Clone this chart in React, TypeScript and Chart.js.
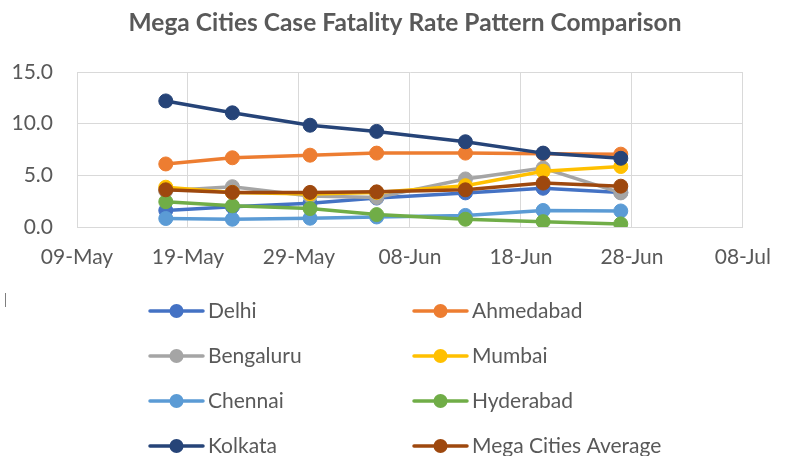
import React, { useEffect, useRef } from "react";
import { Chart, registerables } from "chart.js";

Chart.register(...registerables);

const TITLE = "Mega Cities Case Fatality Rate Pattern Comparison";
const START_DATE = "2020-05-09";
const END_DATE = "2020-07-08";
const TICK_STEP_DAYS = 10;
const Y_MIN = 0;
const Y_MAX = 15;
const Y_STEP = 5;

const dates = ["2020-05-17", "2020-05-23", "2020-05-30", "2020-06-05", "2020-06-13", "2020-06-20", "2020-06-27"];

const seriesNames = ["Delhi", "Ahmedabad", "Bengaluru", "Mumbai", "Chennai", "Hyderabad", "Kolkata", "Mega Cities Average"];
const delhi = [1.6, 1.95, 2.3, 2.8, 3.3, 3.75, 3.35];
const ahmedabad = [6.1, 6.7, 6.95, 7.15, 7.15, 7.1, 7.05];
const bengaluru = [3.5, 3.9, 3.0, 2.85, 4.65, 5.7, 3.3];
const mumbai = [3.85, 3.35, 3.2, 3.35, 4.0, 5.4, 5.85];
const chennai = [0.82, 0.75, 0.85, 0.97, 1.12, 1.6, 1.55];
const hyderabad = [2.45, 2.05, 1.78, 1.2, 0.75, 0.52, 0.3];
const kolkata = [12.2, 11.05, 9.85, 9.25, 8.25, 7.15, 6.65];
const megaAverage = [3.6, 3.35, 3.35, 3.4, 3.6, 4.25, 3.95];
const seriesValues = [delhi, ahmedabad, bengaluru, mumbai, chennai, hyderabad, kolkata, megaAverage];
const seriesColors = ["#4472C4", "#ED7D31", "#A5A5A5", "#FFC000", "#5B9BD5", "#70AD47", "#264478", "#9E480E"];

const MONTHS = ["Jan", "Feb", "Mar", "Apr", "May", "Jun", "Jul", "Aug", "Sep", "Oct", "Nov", "Dec"];
const DAY_MS = 86400000;
const startMs = Date.parse(START_DATE + "T00:00:00Z");
const dayOffset = (d: string) => Math.round((Date.parse(d + "T00:00:00Z") - startMs) / DAY_MS);
const formatDay = (offset: number) => {
  const dt = new Date(startMs + offset * DAY_MS);
  const dd = String(dt.getUTCDate()).padStart(2, "0");
  return dd + "-" + MONTHS[dt.getUTCMonth()];
};

const TEXT_COLOR = "#595959";
const GRID_COLOR = "#D9D9D9";
const FONT_FAMILY = "Lato, 'Open Sans', sans-serif";

const decorPlugin = {
  id: "decor",
  afterDraw(chart: any) {
    const ctx = chart.ctx as CanvasRenderingContext2D;
    ctx.save();
    // title
    ctx.font = "bold 24.5px " + FONT_FAMILY;
    ctx.fillStyle = TEXT_COLOR;
    ctx.textAlign = "center";
    ctx.textBaseline = "middle";
    ctx.fillText(TITLE, 405, 23);

    // stray mark
    ctx.strokeStyle = "#7f7f7f";
    ctx.lineWidth = 1;
    ctx.beginPath();
    ctx.moveTo(5.5, 293);
    ctx.lineTo(5.5, 307);
    ctx.stroke();

    // legend
    const colX = [150, 414];
    const rowY = [311, 356, 401, 446];
    const lineLen = 53;
    ctx.font = "21px " + FONT_FAMILY;
    ctx.textAlign = "left";
    seriesNames.forEach((name, i) => {
      const x = colX[i % 2];
      const y = rowY[Math.floor(i / 2)];
      const c = seriesColors[i];
      ctx.strokeStyle = c;
      ctx.lineWidth = 3.5;
      ctx.lineCap = "round";
      ctx.beginPath();
      ctx.moveTo(x, y);
      ctx.lineTo(x + lineLen, y);
      ctx.stroke();
      ctx.fillStyle = c;
      ctx.beginPath();
      ctx.arc(x + lineLen / 2, y, 7, 0, Math.PI * 2);
      ctx.fill();
      ctx.fillStyle = TEXT_COLOR;
      ctx.fillText(name, x + lineLen + 5, y);
    });
    ctx.restore();
  },
};

export default function App() {
  const ref = useRef<HTMLCanvasElement>(null);
  useEffect(() => {
    const canvas = ref.current;
    if (!canvas) return;
    const n = seriesNames.length;
    const chart = new Chart(canvas, {
      type: "line",
      data: {
        datasets: seriesNames.map((name, i) => ({
          label: name,
          data: seriesValues[i].map((v, j) => ({ x: dayOffset(dates[j]), y: v })),
          borderColor: seriesColors[i],
          backgroundColor: seriesColors[i],
          pointBackgroundColor: seriesColors[i],
          pointBorderColor: seriesColors[i],
          pointBorderWidth: 1,
          pointRadius: 7,
          borderWidth: 3.5,
          tension: 0,
          fill: false,
          order: n - i,
        })),
      },
      options: {
        responsive: false,
        animation: false,
        layout: { padding: { left: 0, right: 32, top: 72, bottom: 0 } },
        plugins: {
          legend: { display: false },
          title: { display: false },
          tooltip: { enabled: false },
        },
        scales: {
          x: {
            type: "linear",
            min: 0,
            max: dayOffset(END_DATE),
            grid: { color: GRID_COLOR, lineWidth: 1, drawTicks: false },
            border: { color: GRID_COLOR, width: 1 },
            ticks: {
              stepSize: TICK_STEP_DAYS,
              padding: 18,
              color: TEXT_COLOR,
              font: { family: FONT_FAMILY, size: 21 },
              maxRotation: 0,
              autoSkip: false,
              callback: (v: any) => formatDay(Number(v)),
            },
            afterFit: (scale: any) => {
              scale.height = 229;
            },
          },
          y: {
            min: Y_MIN,
            max: Y_MAX,
            grid: { color: GRID_COLOR, lineWidth: 1, drawTicks: false },
            border: { color: GRID_COLOR, width: 1 },
            ticks: {
              stepSize: Y_STEP,
              padding: 24,
              color: TEXT_COLOR,
              font: { family: FONT_FAMILY, size: 21 },
              callback: (v: any) => Number(v).toFixed(1),
            },
            afterFit: (scale: any) => {
              scale.width = 77;
            },
          },
        },
      },
      plugins: [decorPlugin],
    } as any);
    return () => chart.destroy();
  }, []);
  return (
    <div style={{ position: "absolute", left: 0, top: 0, width: 789, height: 456, background: "#fff" }}>
      <canvas ref={ref} width={789} height={456} style={{ display: "block", width: 789, height: 456 }} />
    </div>
  );
}
